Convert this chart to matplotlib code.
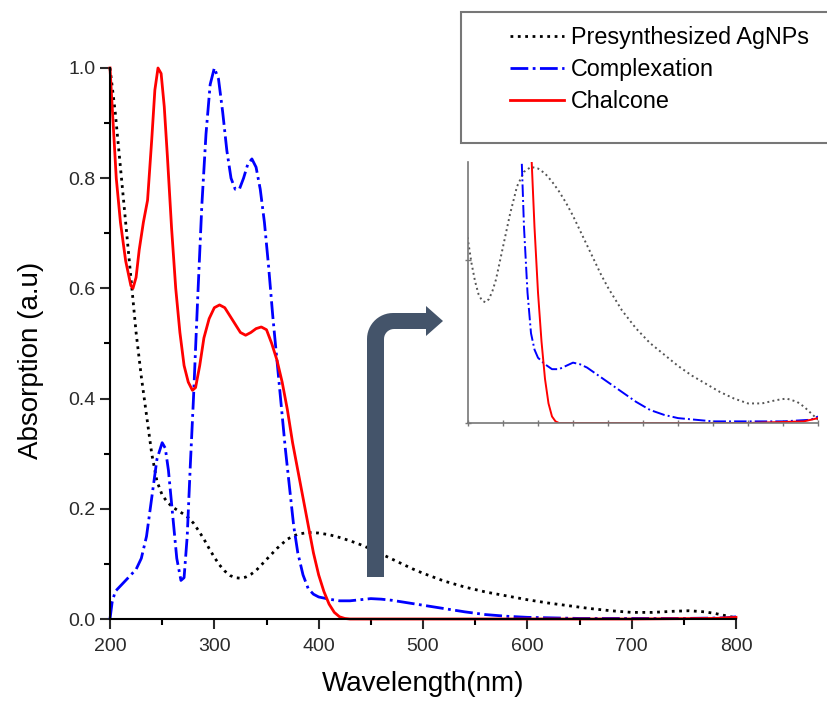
"""
plot.py - UV-vis absorption spectra of AgNPs, complexation and chalcone,
with a zoomed inset of the 300-800 nm region.
"""

import numpy as np
import matplotlib
matplotlib.use('Agg')
import matplotlib.pyplot as plt
from matplotlib.path import Path
from matplotlib.patches import PathPatch, Rectangle
from matplotlib.ticker import MultipleLocator
from matplotlib.transforms import Affine2D

plt.rcParams['font.family'] = ['Liberation Sans', 'DejaVu Sans']

# --- data ------------------------------------------------------------------
agnps_wl = [200, 205, 210, 215, 220, 225, 230, 235, 240, 245, 250, 255, 260,
            265, 270, 275, 280, 285, 290, 295, 300, 305, 310, 315, 320, 325,
            330, 335, 340, 350, 360, 370, 380, 390, 400, 410, 420, 430, 440,
            450, 460, 470, 480, 490, 500, 520, 540, 560, 580, 600, 620, 640,
            660, 680, 700, 720, 740, 755, 770, 780, 790, 800]
agnps_abs = [1.00, 0.92, 0.82, 0.72, 0.62, 0.52, 0.44, 0.37, 0.30, 0.25, 0.225,
             0.212, 0.203, 0.197, 0.191, 0.184, 0.174, 0.16, 0.145, 0.128,
             0.112, 0.098, 0.087, 0.079, 0.075, 0.074, 0.076, 0.081, 0.088,
             0.108, 0.128, 0.145, 0.154, 0.157, 0.156, 0.153, 0.148, 0.142,
             0.135, 0.127, 0.118, 0.109, 0.100, 0.091, 0.083, 0.069, 0.058,
             0.049, 0.042, 0.035, 0.029, 0.024, 0.019, 0.015, 0.012, 0.012,
             0.014, 0.015, 0.013, 0.010, 0.006, 0.002]

complex_wl = [200, 202, 205, 210, 215, 220, 225, 230, 235, 240, 245, 250, 253,
              256, 260, 264, 268, 271, 274, 277, 280, 284, 288, 292, 296, 300,
              304, 308, 312, 316, 320, 324, 328, 332, 336, 340, 344, 348, 352,
              356, 360, 364, 368, 372, 376, 380, 385, 390, 395, 400, 410, 420,
              430, 440, 450, 460, 470, 480, 490, 500, 520, 540, 560, 580, 600,
              650, 700, 750, 790, 800]
complex_abs = [0.00, 0.03, 0.05, 0.06, 0.07, 0.08, 0.09, 0.11, 0.15, 0.22, 0.29,
               0.32, 0.31, 0.27, 0.19, 0.11, 0.07, 0.075, 0.15, 0.28, 0.40,
               0.58, 0.75, 0.88, 0.97, 1.00, 0.98, 0.92, 0.85, 0.80, 0.78,
               0.78, 0.80, 0.825, 0.835, 0.82, 0.78, 0.72, 0.64, 0.55, 0.47,
               0.39, 0.31, 0.24, 0.17, 0.12, 0.08, 0.055, 0.045, 0.04, 0.036,
               0.033, 0.033, 0.035, 0.037, 0.036, 0.034, 0.031, 0.028, 0.025,
               0.019, 0.013, 0.008, 0.005, 0.003, 0.001, 0.001, 0.001, 0.002,
               0.004]

chalcone_wl = [200, 203, 206, 210, 215, 220, 222, 225, 228, 232, 236, 240, 243,
               246, 249, 252, 255, 259, 263, 267, 271, 275, 279, 282, 286, 290,
               295, 300, 305, 310, 315, 320, 325, 330, 335, 340, 345, 350, 355,
               360, 365, 370, 375, 380, 385, 390, 395, 400, 405, 410, 415, 420,
               425, 430, 500, 600, 700, 780, 800]
chalcone_abs = [1.00, 0.90, 0.80, 0.72, 0.65, 0.605, 0.60, 0.62, 0.67, 0.72,
                0.76, 0.87, 0.96, 1.00, 0.99, 0.93, 0.84, 0.71, 0.60, 0.52,
                0.46, 0.43, 0.415, 0.42, 0.46, 0.51, 0.545, 0.565, 0.57, 0.565,
                0.55, 0.535, 0.52, 0.515, 0.52, 0.527, 0.53, 0.525, 0.50, 0.47,
                0.43, 0.38, 0.32, 0.27, 0.22, 0.17, 0.12, 0.08, 0.05, 0.027,
                0.012, 0.004, 0.001, 0.0, 0.0, 0.0, 0.0, 0.001, 0.003]

labels = ['Presynthesized AgNPs', 'Complexation', 'Chalcone']
W, H = 827, 701


def draw_series(ax, lw, dot_color):
    """Draw the three spectra on ax."""
    ax.plot(agnps_wl, agnps_abs, ls=':', color=dot_color, lw=lw, label=labels[0])
    ax.plot(complex_wl, complex_abs, ls='-.', color='blue', lw=lw, label=labels[1])
    ax.plot(chalcone_wl, chalcone_abs, ls='-', color='red', lw=lw, label=labels[2])


def px_transform(fig):
    """Transform from picture pixels (y downwards) to the figure."""
    return Affine2D().scale(1 / W, -1 / H).translate(0, 1) + fig.transFigure


def bent_arrow(fig):
    """The dark bent arrow pointing to the inset."""
    outer = np.radians(np.linspace(180, 90, 15))
    inner = np.radians(np.linspace(90, 180, 10))
    pts = [(367, 577), (367, 339)]
    pts += [(393 + 26 * np.cos(t), 339 - 26 * np.sin(t)) for t in outer]
    pts += [(426, 313), (426, 306), (443, 321), (426, 336), (426, 329)]
    pts += [(394 + 10 * np.cos(t), 339 - 10 * np.sin(t)) for t in inner]
    pts += [(384, 577), (367, 577)]
    path = Path(pts, closed=True)
    fig.add_artist(PathPatch(path, transform=px_transform(fig),
                             facecolor='#44546A', edgecolor='none'))


fig = plt.figure(figsize=(W / 100, H / 100), dpi=100)

# legend box first, so it sits under everything else
fig.add_artist(Rectangle((461, 12), 420, 131, transform=px_transform(fig),
                         facecolor='white', edgecolor='#777777', lw=1.5,
                         zorder=0))

# main axes
ax = fig.add_axes([110 / W, 1 - 619 / H, 626 / W, 551 / H])
ax.patch.set_alpha(0)
draw_series(ax, 2.0, 'black')
for line in ax.lines:
    line.set_clip_on(False)
ax.set_xlim(200, 800)
ax.set_ylim(0, 1.0)
ax.xaxis.set_major_locator(MultipleLocator(100))
ax.xaxis.set_minor_locator(MultipleLocator(50))
ax.yaxis.set_major_locator(MultipleLocator(0.2))
ax.yaxis.set_minor_locator(MultipleLocator(0.1))
ax.yaxis.set_major_formatter(lambda v, pos: f'{v:.1f}')
for side in ('top', 'right'):
    ax.spines[side].set_visible(False)
for side in ('left', 'bottom'):
    ax.spines[side].set_linewidth(1.5)
ax.tick_params(which='major', direction='out', length=7, width=1.5,
               labelsize=14, colors='#2a2a2a')
ax.tick_params(which='minor', direction='out', length=4, width=1.5)
ax.tick_params(axis='x', which='major', pad=7)
ax.tick_params(axis='y', which='major', pad=3.5)
ax.set_xlabel('Wavelength(nm)', fontsize=20, labelpad=11)
ax.set_ylabel('Absorption (a.u)', fontsize=20)
ax.yaxis.set_label_coords(-0.105, 0.47)

# inset
axin = fig.add_axes([468 / W, 1 - 423 / H, 350 / W, 261 / H])
draw_series(axin, 1.4, '#555555')
axin.set_xlim(300, 800)
axin.set_ylim(0, 0.16)
axin.xaxis.set_major_locator(MultipleLocator(50))
axin.set_yticks([0, 0.1])
axin.set_xticklabels([])
axin.set_yticklabels([])
for side in ('top', 'right'):
    axin.spines[side].set_visible(False)
for side in ('left', 'bottom'):
    axin.spines[side].set_color('#777777')
    axin.spines[side].set_linewidth(1.2)
axin.tick_params(direction='inout', length=4, width=1, color='#777777')
axin.patch.set_alpha(0)

# legend, without its own frame
handles, _ = ax.get_legend_handles_labels()
fig.legend(handles, labels, loc='upper left', bbox_to_anchor=(510 / W, 1 - 26 / H),
           frameon=False, fontsize=16.8, handlelength=2.3, handletextpad=0.3,
           labelspacing=0.39, borderpad=0, borderaxespad=0)

bent_arrow(fig)

fig.savefig('out.png', dpi=100)
